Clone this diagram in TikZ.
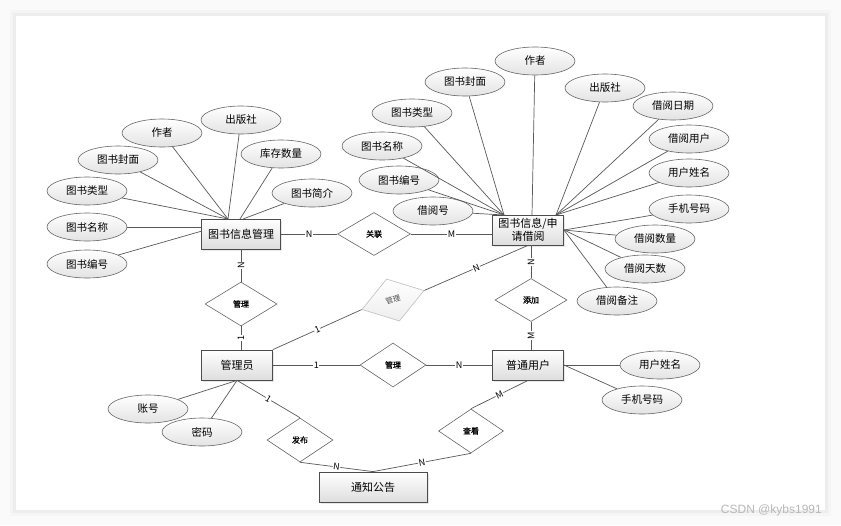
\documentclass[tikz,border=0pt]{standalone}
\usepackage{fontspec}
\newfontfamily\cjk{Noto Sans CJK SC}
\newfontfamily\cjkb{Noto Sans CJK SC}[FakeBold=1.2]
\newfontfamily\wmfont{Liberation Sans}
\usetikzlibrary{shapes.geometric,shadows}
\begin{document}
\begin{tikzpicture}[x=1pt,y=-1pt,
  ent/.style={draw=black!70, line width=0.8pt, top color=white, bottom color=black!13,
    minimum width=79pt, minimum height=30pt, inner sep=1pt,
    font=\cjk\fontsize{11}{12.5}\selectfont,
    drop shadow={opacity=0.18, shadow xshift=1.5pt, shadow yshift=-1.5pt}},
  att/.style={ellipse, draw=black!60, line width=0.6pt, top color=white, bottom color=black!11,
    minimum width=80pt, minimum height=28pt, inner sep=0pt,
    font=\cjk\fontsize{10.5}{12}\selectfont},
  rel/.style={diamond, draw=black!60, line width=0.6pt, fill=white,
    minimum width=72pt, minimum height=44pt, inner sep=0pt,
    font=\cjkb\fontsize{8}{9}\selectfont},
  relg/.style={diamond, draw=black!25, line width=0.6pt, top color=white, bottom color=black!7,
    minimum width=65pt, minimum height=44pt, inner sep=0pt, text=black!70,
    font=\cjk\fontsize{7.5}{8}\selectfont},
  ln/.style={draw=black!65, line width=0.7pt},
  lab/.style={font=\cjk\fontsize{9}{9}\selectfont, fill=white, inner sep=0.6pt, sloped, midway}
]
\useasboundingbox (0,0) rectangle (841,525);
% background card
\fill[black!2] (0,0) rectangle (841,525);
\fill[black!4] (10,10) rectangle (831,516);
\fill[black!7] (13,13) rectangle (828,513);
\fill[white] (16,16) rectangle (825,510);

% entities
\node[ent] (lent) at (241,234) {图书信息管理};
\node[ent, minimum width=71pt, align=center] (rent) at (528,230) {图书信息/申\\请借阅};
\node[ent, minimum width=71pt] (gly) at (237,365) {管理员};
\node[ent, minimum width=71pt] (pt) at (528,365) {普通用户};
\node[ent, minimum width=108pt] (tz) at (373,487) {通知公告};

% relationships
\node[rel, minimum width=73pt, minimum height=43pt] (gl) at (374,234) {关联};
\node[rel] (gl1) at (241,304) {管理};
\node[relg, rotate=17] (gl2) at (393,300) {管理};
\node[rel, minimum width=66pt] (gl3) at (393,365) {管理};
\node[rel, minimum height=43pt] (tj) at (531,300) {添加};
\node[rel, minimum width=66pt] (fb) at (300,440) {发布};
\node[rel, minimum width=65pt] (ck) at (471,431) {查看};

% attributes left
\node[att] (cbs) at (241,120) {出版社};
\node[att] (zz) at (162,133) {作者};
\node[att] (fm) at (118,160) {图书封面};
\node[att] (kc) at (281,154) {库存数量};
\node[att] (jj) at (312,193) {图书简介};
\node[att] (lx) at (87,191) {图书类型};
\node[att] (mc) at (87,227) {图书名称};
\node[att] (bh) at (87,264) {图书编号};

% attributes right
\node[att] (rzz) at (535,61) {作者};
\node[att] (rfm) at (465,82) {图书封面};
\node[att] (rlx) at (412,113) {图书类型};
\node[att] (rmc) at (382,146) {图书名称};
\node[att] (rbh) at (399,180) {图书编号};
\node[att] (jyh) at (433,211) {借阅号};
\node[att] (rcbs) at (605,88) {出版社};
\node[att] (jyrq) at (673,106) {借阅日期};
\node[att] (jyyh) at (689,139) {借阅用户};
\node[att] (yhxm) at (689,173) {用户姓名};
\node[att] (sjhm) at (689,209) {手机号码};
\node[att] (jysl) at (655,239) {借阅数量};
\node[att] (jyts) at (645,269) {借阅天数};
\node[att] (jybz) at (617,301) {借阅备注};

% attributes bottom
\node[att] (uxm) at (660,365) {用户姓名};
\node[att] (usj) at (642,400) {手机号码};
\node[att] (zh) at (148,409) {账号};
\node[att] (mm) at (202,432) {密码};

% convergence points
\coordinate (lt) at (228,219);
\coordinate (lt2) at (240,219);
\coordinate (lt3) at (243,219);
\coordinate (lb) at (202,231);
\coordinate (rl) at (504,215);
\coordinate (rt) at (532,215);
\coordinate (rr) at (556,215);
\coordinate (rs) at (564,230);

% attribute lines
\foreach \a in {lx,fm,zz,cbs} \draw[ln] (\a) -- (lt);
\draw[ln] (kc) -- (lt2);
\draw[ln] (jj) -- (lt3);
\draw[ln] (mc.east) -- (mc.east -| lent.west);
\draw[ln] (bh) -- (lb);
\foreach \a in {rfm,rlx,rmc,rbh,jyh} \draw[ln] (\a) -- (rl);
\draw[ln] (rzz) -- (rt);
\foreach \a in {rcbs,jyrq,jyyh,yhxm} \draw[ln] (\a) -- (rr);
\foreach \a in {sjhm,jysl,jyts,jybz} \draw[ln] (\a) -- (rs);
\draw[ln] (pt.east) -- (uxm);
\draw[ln] (pt.east) -- (usj);
\draw[ln] (gly.south) -- (zh);
\draw[ln] (gly.south) -- (mm);

% relationship lines
\draw[ln] (lent) -- node[lab]{N} (gl);
\draw[ln] (gl.east) -- node[lab]{M} (gl.east -| rent.west);
\draw[ln] (gl1.north) -- node[lab]{N} (gl1.north |- lent.south);
\draw[ln] (gl1.south |- gly.north) -- node[lab]{1} (gl1.south);
\draw[ln] (gly.north east) -- node[lab]{1} (gl2.west);
\draw[ln] (gl2.east) -- node[lab]{N} (rent.south);
\draw[ln] (tj.north) -- node[lab]{N} (tj.north |- rent.south);
\draw[ln] (tj.south |- pt.north) -- node[lab]{M} (tj.south);
\draw[ln] (gly) -- node[lab]{1} (gl3);
\draw[ln] (gl3) -- node[lab]{N} (pt);
\draw[ln] (gly.south) -- node[lab]{1} (fb.north);
\draw[ln] (pt.south) -- node[lab]{M} (ck.north);
\draw[ln] (fb.south) -- node[lab]{N} (tz.north);
\draw[ln] (ck.south) -- node[lab]{N} (tz.north);

% watermark
\node[font=\wmfont\fontsize{12}{12}\selectfont, text=black!28, anchor=east, inner sep=0pt] (wm) at (822,510) {CSDN @kybs1991};
\end{tikzpicture}
\end{document}
